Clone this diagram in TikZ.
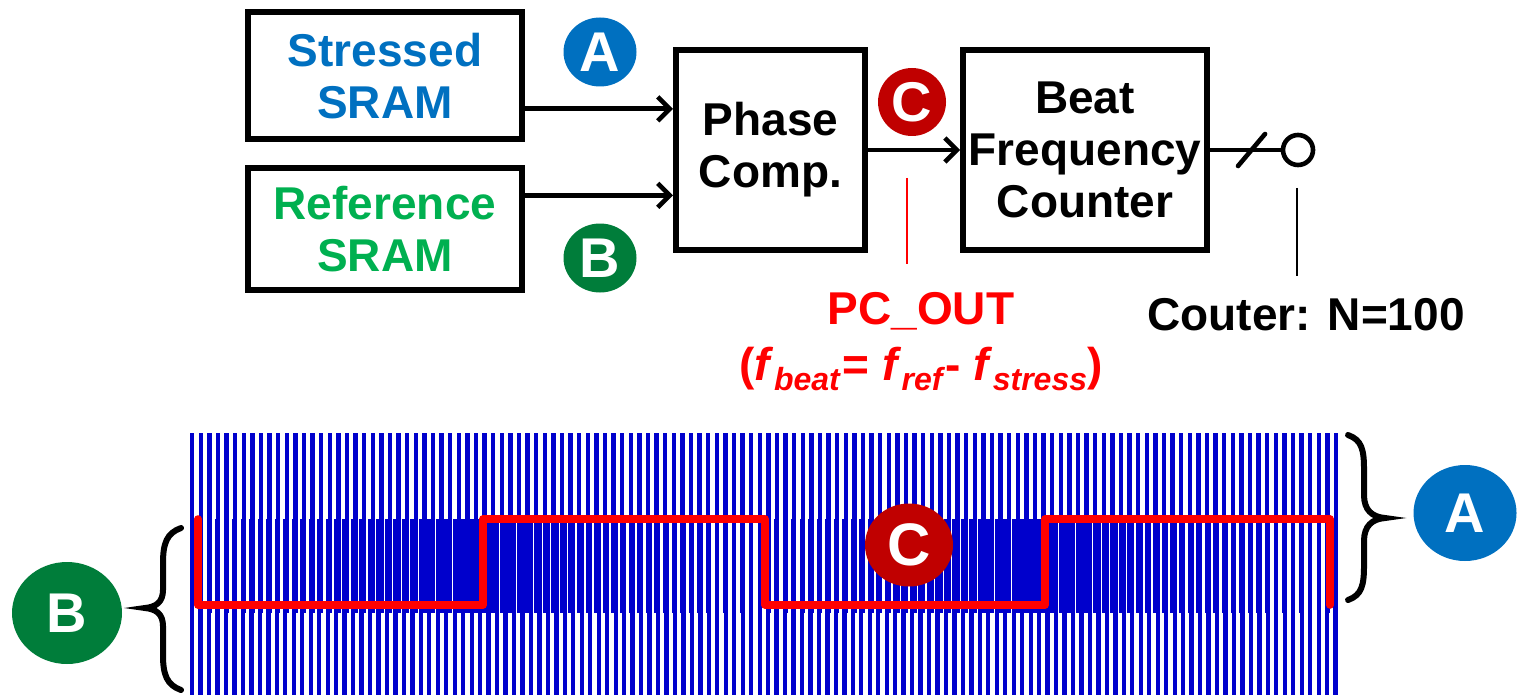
\documentclass[tikz,border=0pt]{standalone}
\usepackage{fontspec}
\setmainfont{Liberation Sans}
\usetikzlibrary{arrows.meta,positioning,shapes.geometric,calc}
\definecolor{sblue}{HTML}{0070C0}
\definecolor{rgreen}{HTML}{00B050}
\definecolor{bgreen}{HTML}{007D3A}
\definecolor{cred}{HTML}{C00000}
\definecolor{wblue}{HTML}{0000CC}
\newcommand{\fsub}[1]{\raisebox{-0.45ex}{\fontsize{16}{16}\selectfont\bfseries\itshape #1}}

\begin{document}
\begin{tikzpicture}[x=0.5pt, y=-0.5pt, every node/.style={font=\bfseries\fontsize{23}{26}\selectfont}, blk/.style={draw, line width=3pt, align=center, inner sep=0pt}, badge/.style={ellipse, fill=#1, text=white, inner sep=0pt}, arr/.style={line width=2.3pt, -{Straight Barb[length=6pt,width=12pt]}}, lbl/.style={inner sep=0pt, align=center}]
\useasboundingbox (0,0) rectangle (1518,695);
\node[blk, text=sblue, minimum width=137pt, minimum height=63.5pt] (stressed) at (385,76) {Stressed\\SRAM};
\node[blk, text=rgreen, minimum width=137pt, minimum height=60.5pt, below=11.5pt of stressed] (reference) {Reference\\SRAM};
\node[blk, minimum width=94.5pt, minimum height=100pt] (phase) at (770.5,150) {Phase\\Comp.};
\node[blk, minimum width=122pt, minimum height=100pt, right=46pt of phase] (beat) {Beat\\Frequency\\Counter};
\node[badge=sblue, minimum width=36.5pt, minimum height=34.5pt, font=\bfseries\fontsize{28}{28}\selectfont] (bA) at (600,52) {A};
\node[badge=bgreen, minimum width=36.5pt, minimum height=34.5pt, font=\bfseries\fontsize{28}{28}\selectfont] (bB) at (600,258) {B};
\node[badge=cred, minimum width=34pt, minimum height=34pt, font=\bfseries\fontsize{28}{28}\selectfont] (bC) at (912,102) {C};
\node[circle, draw, line width=2.3pt, minimum size=15pt, inner sep=0pt] (out) at (1298,150) {};
\node[lbl, text=red] (pcout) at (921,311) {PC\_OUT};
\node[lbl, text=red] (beq) at (921,369) {(\textit{f}\fsub{beat}\kern1.5pt= \textit{f}\fsub{ref}\kern1.5pt- \textit{f}\fsub{stress})};
\node[lbl] (cnt) at (1306,315) {Couter: N=100};
\coordinate (inA) at ($(phase.north west)!0.3!(phase.south west)$);
\coordinate (inB) at ($(phase.north west)!0.72!(phase.south west)$);
\coordinate (ctap) at (907,178);
\coordinate (otap) at (1297,188);
\draw[arr] (stressed.east |- inA) -- (inA);
\draw[arr] (reference.east |- inB) -- (inB);
\draw[arr] (phase.east) -- (beat.west);
\draw[line width=2.3pt] (beat.east) -- (out.west);
\draw[line width=2.3pt, line cap=round] ($(beat.east)!0.58!(out.west)+(-13,16)$) -- ++(27,-32);
\draw[red, line width=1.1pt] (ctap) -- (ctap |- pcout.north) [shorten >=14pt];
\draw[line width=1.1pt] (otap) -- (otap |- cnt.north) [shorten >=11pt];
\foreach \i in {0,...,133}
  \fill[wblue] ({190+8.6*\i},433) rectangle ++(4.3,180);
\foreach \i in {0,...,135}
  \fill[wblue] ({190+8.47*\i},519) rectangle ++(4.3,176);
\draw[red, line width=3.8pt, line join=round, line cap=round] (198,519) -- (198,605) -- (483,605) -- (483,519) -- (765,519) -- (765,605) -- (1045,605) -- (1045,519) -- (1330,519) -- (1330,605);
\draw[line width=3pt, line cap=round] (1348,435) .. controls (1362,440) and (1364,450) .. (1364,470) -- (1364,495) .. controls (1364,510) and (1372,517) .. (1385,518) .. controls (1372,519) and (1364,526) .. (1364,541) -- (1364,565) .. controls (1364,585) and (1362,595) .. (1348,600);
\draw[line width=3pt, line cap=round] (181,528) .. controls (167,533) and (163,543) .. (163,563) -- (163,590) .. controls (163,602) and (156,607) .. (145,608) .. controls (156,609) and (163,614) .. (163,626) -- (163,655) .. controls (163,675) and (167,685) .. (181,690);
\node[badge=cred, minimum width=44pt, minimum height=41.5pt, font=\bfseries\fontsize{30}{30}\selectfont] (wC) at (909,545) {C};
\node[badge=sblue, minimum width=51.5pt, minimum height=48pt, font=\bfseries\fontsize{28}{28}\selectfont] (wA) at (1465,513) {A};
\node[badge=bgreen, minimum width=55pt, minimum height=51pt, font=\bfseries\fontsize{28}{28}\selectfont] (wB) at (67,613) {B};
\end{tikzpicture}
\end{document}
